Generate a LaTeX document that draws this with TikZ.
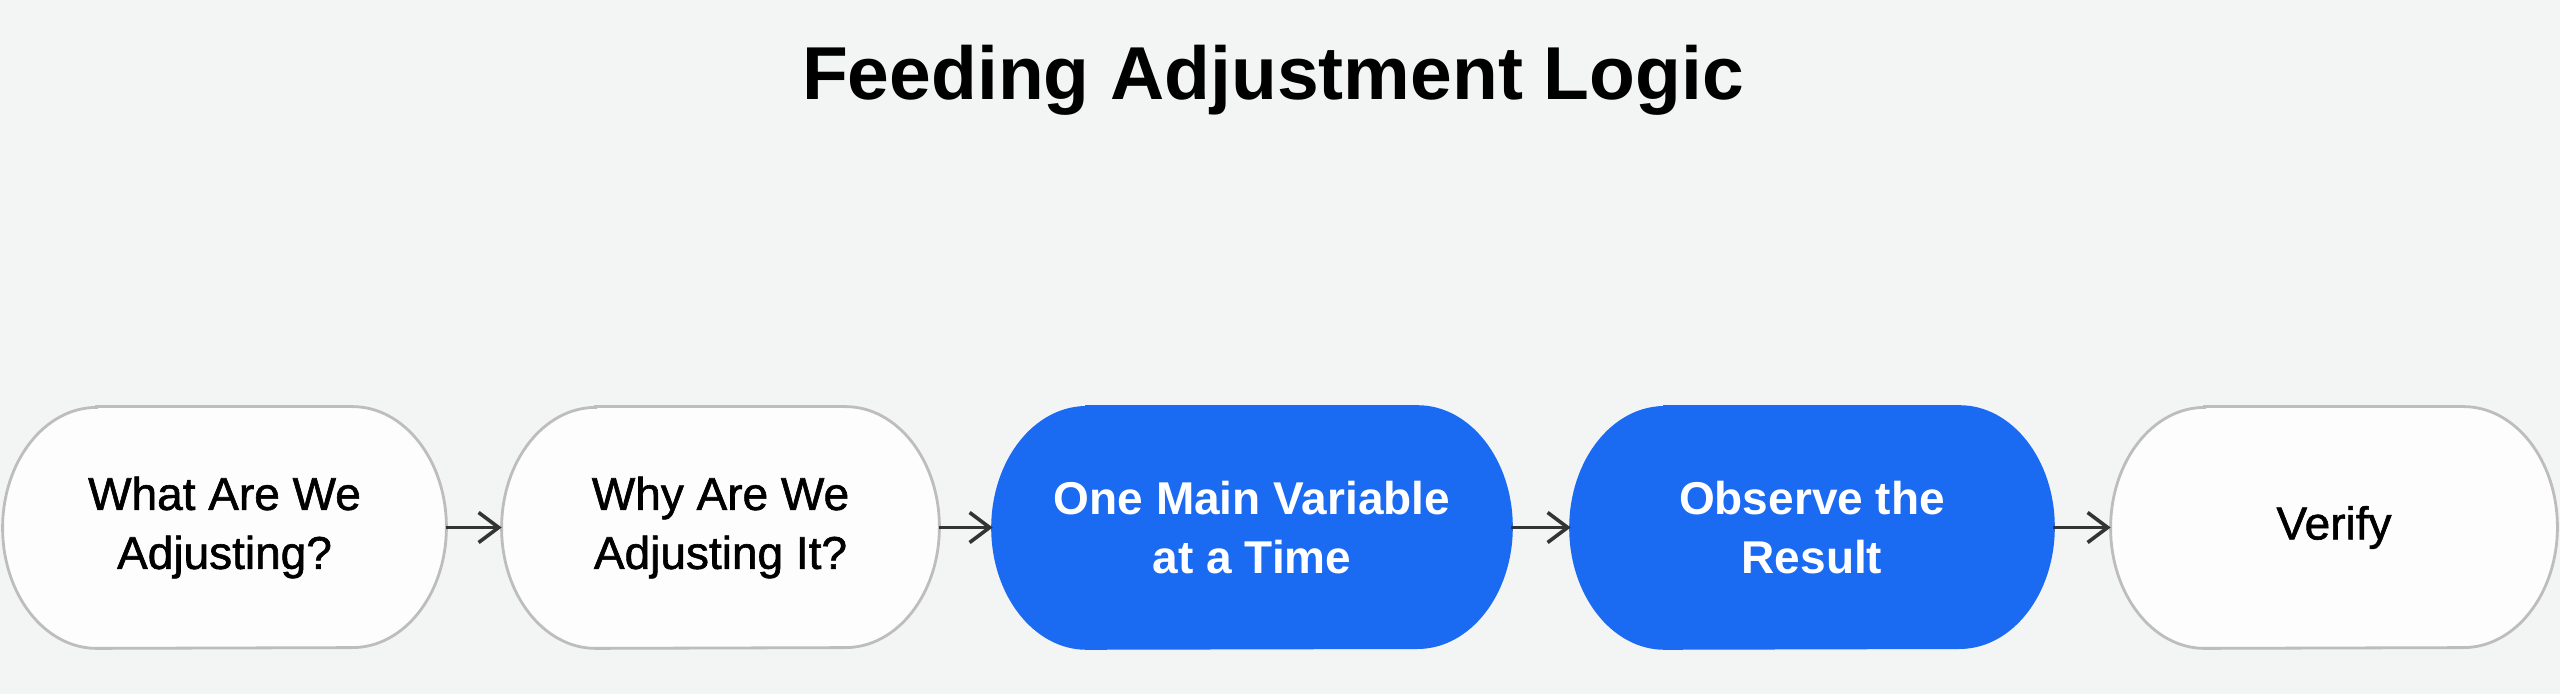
\documentclass[tikz,border=0pt]{standalone}
\usepackage{fontspec}
\setmainfont{Liberation Sans}
\newfontfamily\medfont[FakeBold=1.3]{Liberation Sans}
\usetikzlibrary{arrows.meta}
\definecolor{pagebg}{HTML}{F3F4F4}
\definecolor{boxline}{HTML}{BDBDBD}
\definecolor{boxfill}{HTML}{FDFDFD}
\definecolor{accent}{HTML}{1B6AF2}
\definecolor{arrowcol}{HTML}{333333}
\pgfdeclarelayer{bg}
\pgfsetlayers{bg,main}
\tikzset{
  boxtext/.style={inner sep=0pt, minimum height=120.5pt, align=center,
    font=\fontsize{23}{29.5}\selectfont},
  plaintext/.style={boxtext, text=black, font=\fontsize{23}{29.5}\selectfont\medfont},
  accenttext/.style={boxtext, text=white, font=\fontsize{23}{29.5}\selectfont\bfseries},
  flowarrow/.style={draw=arrowcol, line width=1.8pt,
    -{Straight Barb[length=10pt,width=15pt,line width=1.8pt]}},
}
\newcommand{\capsule}[3]{%
  \draw[fill=#2, draw=#3, line width=1.4pt]
    ([xshift=47pt]#1.north west) -- ([xshift=-47pt]#1.north east)
    arc[start angle=90, end angle=-90, x radius=47pt, y radius=60.25pt]
    -- ([xshift=47pt]#1.south west)
    arc[start angle=270, end angle=90, x radius=47pt, y radius=60.25pt]
    -- cycle;}
\begin{document}
\begin{tikzpicture}[x=0.5pt,y=-0.5pt]
\begin{pgfonlayer}{bg}
\fill[pagebg] (0,0) rectangle (2560,694);
\end{pgfonlayer}
\useasboundingbox (0,0) rectangle (2560,694);

\node[anchor=base, font=\fontsize{37.5}{44}\selectfont\bfseries] (title) at (1273,100) {Feeding Adjustment Logic};

\node[plaintext, minimum width=221.5pt] (b1) at (224.5,527.5) {What Are We\\Adjusting?};
\node[plaintext, minimum width=218.5pt] (b2) at (720.5,527.5) {Why Are We\\Adjusting It?};
\node[accenttext, minimum width=259pt] (b3) at (1252,527.5) {One Main Variable\\at a Time};
\node[accenttext, minimum width=241pt] (b4) at (1812,527.5) {Observe the\\Result};
\node[plaintext, minimum width=223pt] (b5) at (2334,527.5) {Verify};

\begin{pgfonlayer}{bg}
\capsule{b1}{boxfill}{boxline}
\capsule{b2}{boxfill}{boxline}
\capsule{b3}{accent}{accent}
\capsule{b4}{accent}{accent}
\capsule{b5}{boxfill}{boxline}
\end{pgfonlayer}

\draw[flowarrow] (b1.east) -- (b2.west);
\draw[flowarrow] (b2.east) -- (b3.west);
\draw[flowarrow] (b3.east) -- (b4.west);
\draw[flowarrow] (b4.east) -- (b5.west);
\end{tikzpicture}
\end{document}
